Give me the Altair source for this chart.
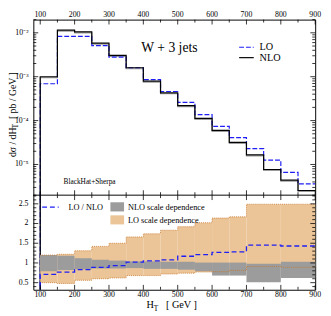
import altair as alt
import pandas as pd

# ---------------- data ----------------
edges_top = [100, 150, 200, 250, 300, 350, 400, 450, 500, 550, 600, 650, 700, 750, 800, 850, 900]
nlo = [1.0e-3, 1.15e-2, 1.05e-2, 5.8e-3, 3.07e-3, 1.6e-3, 7.9e-4, 4.3e-4,
       2.2e-4, 1.12e-4, 6.0e-5, 3.2e-5, 1.66e-5, 7.7e-6, 4.4e-6, 2.55e-6]
lo = [6.9e-4, 8.3e-3, 8.3e-3, 5.1e-3, 2.8e-3, 1.6e-3, 8.6e-4, 4.6e-4,
      2.6e-4, 1.37e-4, 7.4e-5, 4.1e-5, 2.3e-5, 1.26e-5, 6.6e-6, 3.6e-6]
nlo_shadow = [0.95 * v for v in nlo]

edges_low = [100, 150, 200, 250, 300, 350, 400, 450, 500, 550, 600, 650, 700, 800, 900]
ratio = [0.71, 0.77, 0.83, 0.89, 0.93, 1.02, 1.05, 1.08, 1.17, 1.21, 1.27, 1.28, 1.45, 1.43]
nlo_band_lo = [0.79, 0.82, 0.84, 0.86, 0.86, 0.87, 0.85, 0.85, 0.83, 0.79, 0.68, 0.68, 0.51, 0.62]
nlo_band_hi = [1.20, 1.18, 1.12, 1.08, 1.06, 1.04, 1.04, 1.03, 1.03, 1.01, 1.01, 1.01, 0.98, 1.03]
lo_band_lo = [0.50, 0.48, 0.56, 0.60, 0.62, 0.68, 0.68, 0.72, 0.74, 0.77, 0.78, 0.81, 0.91, 0.89]
lo_band_hi = [1.20, 1.22, 1.31, 1.42, 1.50, 1.66, 1.74, 1.83, 1.92, 2.02, 2.14, 2.17, 2.49, 2.49]

x_major = [100, 200, 300, 400, 500, 600, 700, 800, 900]
x_labels = ["100", "200", "300", "400", "500", "600", "700", "800", "900"]
x_minor = [150, 250, 350, 450, 550, 650, 750, 850]
ytop_major = [1e-5, 1e-4, 1e-3, 1e-2]
ytop_labels = ["10⁻⁵", "10⁻⁴", "10⁻³", "10⁻²"]
ytop_minor = [m * 10.0 ** k for k in range(-6, -1) for m in range(2, 10)
              if 2e-6 <= m * 10.0 ** k <= 2e-2]
ylow_major = [0.5, 1.0, 1.5, 2.0, 2.5]
ylow_labels = ["0.5", "1", "1.5", "2", "2.5"]
ylow_minor = [round(0.4 + 0.1 * i, 2) for i in range(24) if round((0.4 + 0.1 * i) * 2, 3) % 1 != 0]

# ---------------- layout ----------------
W = 289
H_TOP = 180
H_ALL = 277
FONT = "Liberation Serif"
BLUE = "#1f1ff5"
GRAY = "#9c9c9c"
ORANGE_FILL = "#ebc497"
ORANGE_EDGE = "#c8782c"

xscale = alt.Scale(domain=[80, 900], nice=False, zero=False)
ytop = alt.Scale(type="log", domain=[2e-6, 2e-2], range=[H_TOP, 0], nice=False)
ylow = alt.Scale(domain=[0.32, 2.72], range=[H_ALL, H_TOP], nice=False, zero=False)


def step_df(edges, vals, start=None):
    rows = []
    if start is not None:
        rows.append((edges[0], start))
    for e, v in zip(edges[:-1], vals):
        rows.append((e, v))
    rows.append((edges[-1], vals[-1]))
    return pd.DataFrame({"i": range(len(rows)), "x": [r[0] for r in rows], "y": [r[1] for r in rows]})


def step_line(df, yscale, **mk):
    return alt.Chart(df).mark_line(interpolate="step-after", clip=True, **mk).encode(
        x=alt.X("x:Q", scale=xscale, axis=None),
        y=alt.Y("y:Q", scale=yscale, axis=None),
        order="i:Q")


def xticks(vals, y0, y1):
    return alt.Chart(pd.DataFrame({"v": vals})).mark_rule(color="black", strokeWidth=0.8).encode(
        x=alt.X("v:Q", scale=xscale, axis=None), y=alt.value(y0), y2=alt.value(y1))


def yticks(vals, x0, x1, yscale):
    return alt.Chart(pd.DataFrame({"v": vals})).mark_rule(color="black", strokeWidth=0.8).encode(
        y=alt.Y("v:Q", scale=yscale, axis=None), x=alt.value(x0), x2=alt.value(x1))


def xlabels(y, baseline):
    return alt.Chart(pd.DataFrame({"v": x_major, "t": x_labels})).mark_text(
        font=FONT, fontSize=8, color="black", baseline=baseline, align="center").encode(
        x=alt.X("v:Q", scale=xscale, axis=None), y=alt.value(y), text="t:N")


def ylabels(vals, texts, yscale):
    return alt.Chart(pd.DataFrame({"v": vals, "t": texts})).mark_text(
        font=FONT, fontSize=8, color="black", baseline="middle", align="right").encode(
        y=alt.Y("v:Q", scale=yscale, axis=None), x=alt.value(-5), text="t:N")


# ---------------- upper panel ----------------
top_layers = [
    step_line(step_df(edges_top, nlo_shadow, 1e-9), ytop, color=GRAY, strokeWidth=1.2),
    step_line(step_df(edges_top, lo, 1e-9), ytop, color=BLUE, strokeWidth=1.2, strokeDash=[5, 2]),
    step_line(step_df(edges_top, nlo, 1e-9), ytop, color="black", strokeWidth=1.2),
    xticks(x_major, 0, 5), xticks(x_minor, 0, 3),
    xticks(x_major, H_TOP, H_TOP - 5), xticks(x_minor, H_TOP, H_TOP - 3),
    yticks(ytop_major, 0, 5, ytop), yticks(ytop_minor, 0, 3, ytop),
    yticks(ytop_major, W, W - 5, ytop), yticks(ytop_minor, W, W - 3, ytop),
    xlabels(-2.5, "alphabetic"),
    ylabels(ytop_major, ytop_labels, ytop),
]
top = alt.layer(*top_layers)

# ---------------- lower panel ----------------
band_df = pd.DataFrame({"x0": edges_low[:-1], "x1": edges_low[1:],
                        "nlo_lo": nlo_band_lo, "nlo_hi": nlo_band_hi,
                        "lo_lo": lo_band_lo, "lo_hi": lo_band_hi})


def band(lo_f, hi_f, **mk):
    return alt.Chart(band_df).mark_rect(**mk).encode(
        x=alt.X("x0:Q", scale=xscale, axis=None), x2="x1:Q",
        y=alt.Y(f"{lo_f}:Q", scale=ylow, axis=None), y2=f"{hi_f}:Q")


low_layers = [
    band("lo_lo", "lo_hi", color=ORANGE_FILL),
    band("nlo_lo", "nlo_hi", color=GRAY),
    step_line(step_df(edges_low, lo_band_lo), ylow, color=ORANGE_EDGE, strokeWidth=0.8, strokeDash=[1, 1]),
    step_line(step_df(edges_low, lo_band_hi), ylow, color=ORANGE_EDGE, strokeWidth=0.8, strokeDash=[1, 1]),
    step_line(step_df(edges_low, ratio, 0.0), ylow, color=BLUE, strokeWidth=1.3, strokeDash=[5, 3]),
    xticks(x_major, H_TOP, H_TOP + 5), xticks(x_minor, H_TOP, H_TOP + 3),
    xticks(x_major, H_ALL, H_ALL - 5), xticks(x_minor, H_ALL, H_ALL - 3),
    yticks(ylow_major, 0, 5, ylow), yticks(ylow_minor, 0, 3, ylow),
    yticks(ylow_major, W, W - 5, ylow), yticks(ylow_minor, W, W - 3, ylow),
    xlabels(H_ALL + 7.0, "alphabetic"),
    ylabels(ylow_major, ylow_labels, ylow),
]
low = alt.layer(*low_layers)

# ---------------- annotations ----------------
one = pd.DataFrame({"a": [0]})


def txt(s, x, y, size, align="left", baseline="middle", angle=0):
    return alt.Chart(one).mark_text(text=s, font=FONT, fontSize=size, align=align, baseline=baseline,
                                    angle=angle, color="black").encode(x=alt.value(x), y=alt.value(y))


def hline(x0, x1, y, color, dash=None, width=1.2):
    kw = dict(color=color, strokeWidth=width)
    if dash:
        kw["strokeDash"] = dash
    return alt.Chart(one).mark_rule(**kw).encode(x=alt.value(x0), x2=alt.value(x1), y=alt.value(y))


def box(x0, x1, y0, y1, color, opacity=1.0):
    return alt.Chart(one).mark_rect(color=color, opacity=opacity).encode(
        x=alt.value(x0), x2=alt.value(x1), y=alt.value(y0), y2=alt.value(y1))


annotations = [
    hline(0, W, H_TOP, "black", width=1),
    txt("W + 3 jets", 139.5, 33.5, 14, align="center", baseline="alphabetic"),
    hline(211, 226, 28.3, BLUE, dash=[5, 2]),
    hline(211, 226, 39.0, "black"),
    txt("LO", 232, 28.3, 10.5),
    txt("NLO", 232, 39.0, 10.5),
    txt("BlackHat+Sherpa", 31, 166.7, 7.5),
    hline(9, 26, 192.3, BLUE, dash=[5, 3], width=1.3),
    txt("LO / NLO", 36, 192.3, 8.5),
    box(79, 93, 187.3, 196.7, GRAY),
    txt("NLO scale dependence", 97, 192.0, 8.5),
    box(79, 93, 200.7, 210.0, ORANGE_FILL),
    txt("LO scale dependence", 97, 205.5, 8.5),
    txt("H", 116, 295.5, 10.5, baseline="alphabetic"),
    txt("T", 123.5, 298.5, 7.5, baseline="alphabetic"),
    txt("[ GeV ]", 136, 295.5, 10.5, baseline="alphabetic"),
    txt("dσ / dH", -21, 141, 10, align="left", baseline="middle", angle=270),
    txt("T", -17.5, 111.5, 7.5, align="left", baseline="middle", angle=270),
    txt("[ pb / GeV ]", -21, 102, 10, align="left", baseline="middle", angle=270),
]

chart = alt.layer(top, low, *annotations).resolve_scale(y="independent").properties(
    width=W, height=H_ALL,
    autosize=alt.AutoSizeParams(type="none"),
    padding={"left": 26, "top": 8, "right": 8, "bottom": 23},
).configure_view(stroke="black", strokeWidth=1)

chart.save("out.html", embed_options={"renderer": "svg", "actions": False})
